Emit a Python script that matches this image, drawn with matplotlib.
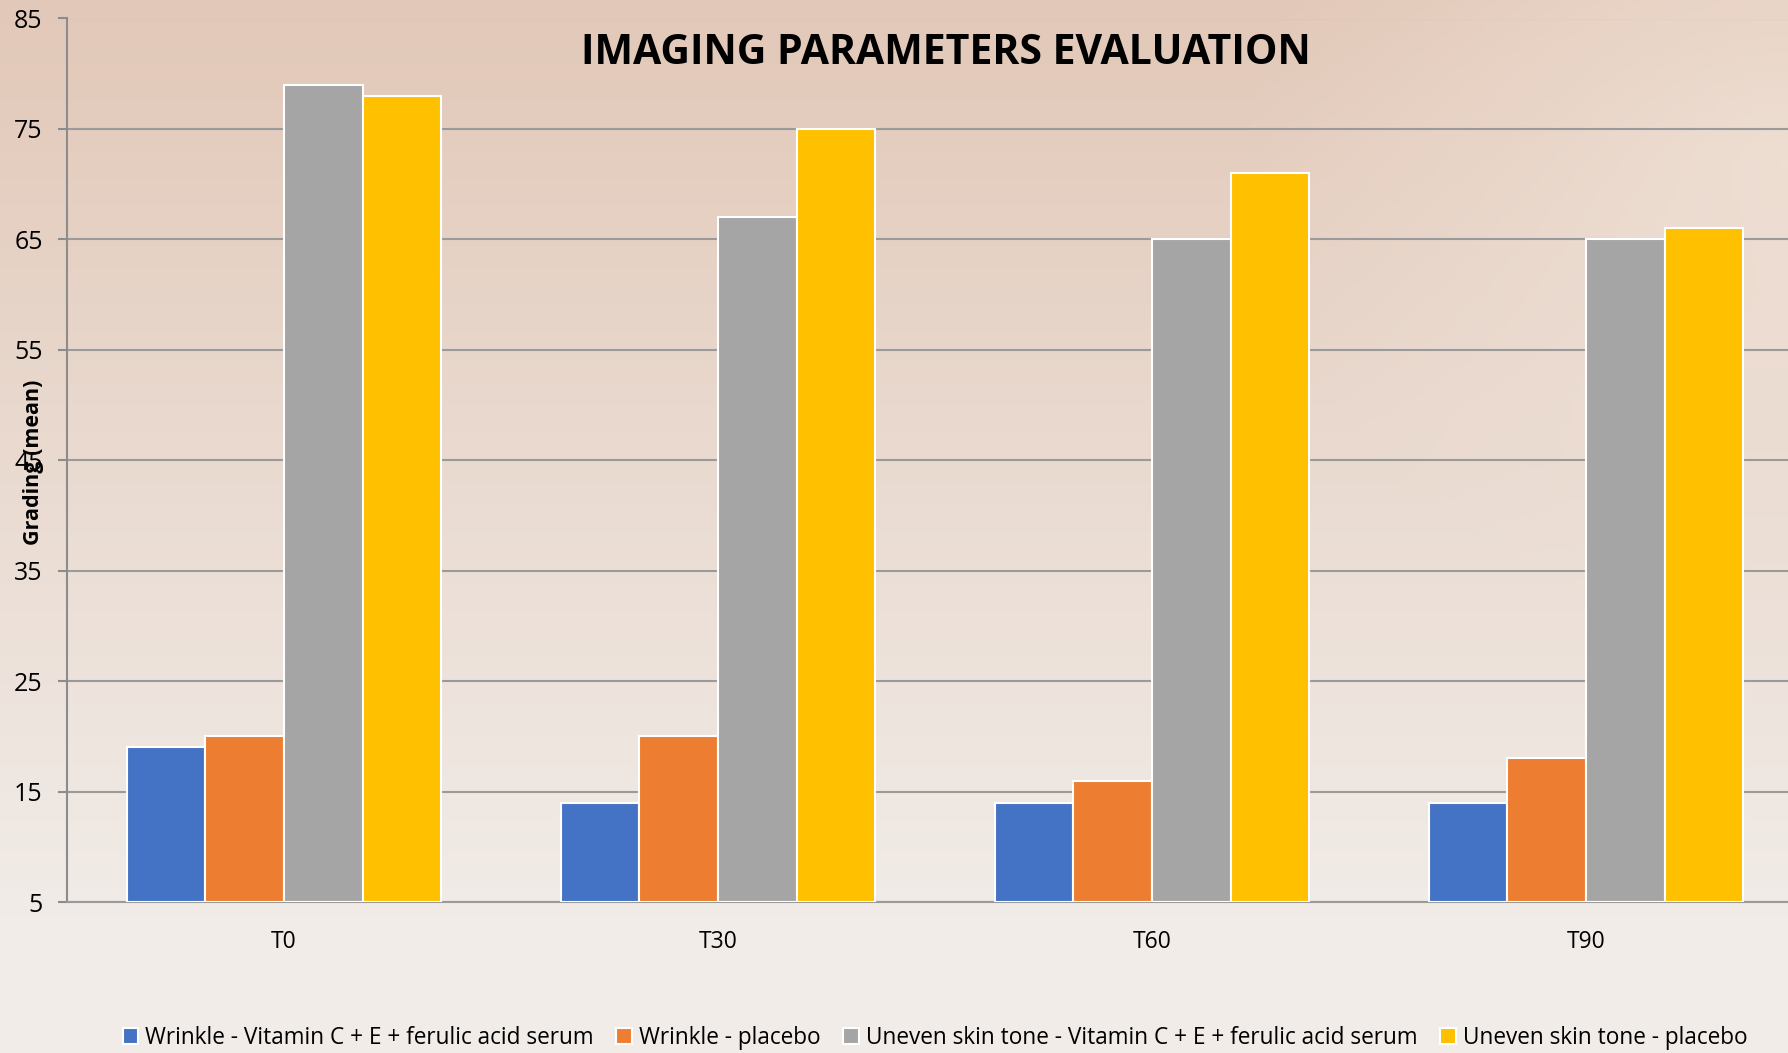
import numpy as np
import matplotlib
matplotlib.use("Agg")
import matplotlib.pyplot as plt

categories = ["T0", "T30", "T60", "T90"]
series_names = [
    "Wrinkle - Vitamin C + E + ferulic acid serum",
    "Wrinkle - placebo",
    "Uneven skin tone - Vitamin C + E + ferulic acid serum",
    "Uneven skin tone - placebo",
]
wrinkle_serum = [19, 14, 14, 14]
wrinkle_placebo = [20, 20, 16, 18]
tone_serum = [79, 67, 65, 65]
tone_placebo = [78, 75, 71, 66]
colors = ["#4472C4", "#ED7D31", "#A5A5A5", "#FFC000"]
yticks = [5, 15, 25, 35, 45, 55, 65, 75, 85]

plt.rcParams['font.family'] = ['Open Sans', 'DejaVu Sans']

W, H = 1788, 1053
fig = plt.figure(figsize=(W / 100, H / 100), dpi=100)

# background gradient
bg = fig.add_axes([0, 0, 1, 1])
ny, nx = 200, 300
yy, xx = np.mgrid[0:1:ny * 1j, 0:1:nx * 1j]
top = np.array([226, 200, 184]) / 255
bot = np.array([241, 236, 232]) / 255
t = np.clip(yy * 1.15, 0, 1)[..., None]
img = top * (1 - t) + bot * t
d = np.sqrt(((xx - 1.0) * 1.5) ** 2 + (yy - 0.15) ** 2)
light = np.clip(1 - d / 0.45, 0, 1)[..., None]
img = img * (1 - light * 0.6) + np.array([244, 232, 222]) / 255 * light * 0.6
bg.imshow(img, extent=[0, 1, 0, 1], aspect='auto', origin='upper')
bg.axis('off')

left = 67 / W
right = 1803 / W
bottom = 1 - 902 / H
topp = 1 - 18.5 / H
ax = fig.add_axes([left, bottom, right - left, topp - bottom])
ax.patch.set_alpha(0)

data = [wrinkle_serum, wrinkle_placebo, tone_serum, tone_placebo]
x = np.arange(len(categories))
bw = 0.181
for i, (vals, c, name) in enumerate(zip(data, colors, series_names)):
    ax.bar(x + (i - 1.5) * bw, np.array(vals) - 5, bottom=5, width=bw,
           color=c, edgecolor='white', linewidth=1.5, label=name, zorder=3)

ax.set_xlim(-0.5, len(categories) - 0.5)
ax.set_ylim(5, 85)
ax.set_yticks(yticks)
ax.set_yticklabels([str(v) for v in yticks], fontsize=18)
ax.set_xticks(x)
ax.set_xticklabels(categories, fontsize=16.5)
ax.tick_params(axis='x', length=0, pad=20)
ax.tick_params(axis='y', length=6.5, color='#8c8c8c', width=1.5, pad=11)
ax.grid(axis='y', color='#9a9a9a', linewidth=1.5, zorder=0)
for s in ['top', 'right']:
    ax.spines[s].set_visible(False)
ax.spines['left'].set_color('#8c8c8c')
ax.spines['left'].set_linewidth(1.5)
ax.spines['bottom'].set_color('#9a9a9a')
ax.spines['bottom'].set_linewidth(1.5)

fig.text(946 / W, 1 - 54 / H, "IMAGING PARAMETERS EVALUATION", ha='center', va='center',
         fontsize=29.5, fontweight='bold')
fig.text(34 / W, 1 - 462 / H, "Grading (mean)", ha='center', va='center',
         rotation=90, fontsize=15.5, fontweight='bold')

leg = fig.legend(loc='center', bbox_to_anchor=(935 / W, 1 - 1038 / H), ncol=4,
                 frameon=False, fontsize=16.3, handlelength=0.7, handleheight=0.7,
                 handletextpad=0.3, columnspacing=1.0)

fig.savefig("out.png", dpi=100)
